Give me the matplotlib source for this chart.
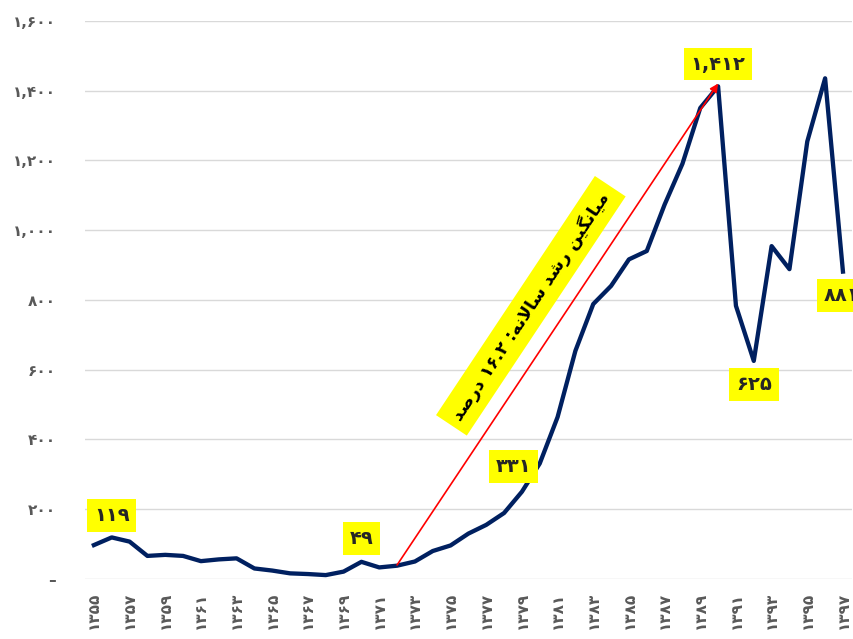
import matplotlib
matplotlib.use("Agg")
import matplotlib.pyplot as plt

# data
years = list(range(1355, 1398))
values = [97, 119, 107, 66, 69, 66, 51, 56, 59, 30,
          24, 16, 14, 11, 21, 49, 33, 38, 50, 80,
          96, 130, 155, 189, 250, 331, 464, 654, 788, 840,
          916, 940, 1073, 1190, 1350, 1412, 783, 625, 954, 888,
          1254, 1435, 881]
label_years = [1356, 1370, 1380, 1390, 1392, 1397]
label_offsets = [(0, 16), (0, 17), (-19, -2), (0, 16), (0, -17), (-1, -17)]
yticks = [0, 200, 400, 600, 800, 1000, 1200, 1400, 1600]
xticks = list(range(1355, 1398, 2))
growth_text = ["میانگین", "رشد", "سالانه:", "۱۶.۲", "درصد"]

FA_DIGITS = str.maketrans("0123456789", "۰۱۲۳۴۵۶۷۸۹")


def fa(n):
    return f"{n:,}".translate(FA_DIGITS)


# matplotlib has no arabic shaping, do it by hand with presentation forms
FORMS = {
    'ا': ('\uFE8D', '\uFE8E', None, None),
    'د': ('\uFEA9', '\uFEAA', None, None),
    'ر': ('\uFEAD', '\uFEAE', None, None),
    'س': ('\uFEB1', '\uFEB2', '\uFEB3', '\uFEB4'),
    'ش': ('\uFEB5', '\uFEB6', '\uFEB7', '\uFEB8'),
    'ص': ('\uFEB9', '\uFEBA', '\uFEBB', '\uFEBC'),
    'ل': ('\uFEDD', '\uFEDE', '\uFEDF', '\uFEE0'),
    'م': ('\uFEE1', '\uFEE2', '\uFEE3', '\uFEE4'),
    'ن': ('\uFEE5', '\uFEE6', '\uFEE7', '\uFEE8'),
    'ه': ('\uFEE9', '\uFEEA', '\uFEEB', '\uFEEC'),
    'ی': ('\uFBFC', '\uFBFD', '\uFBFE', '\uFBFF'),
    'گ': ('\uFB92', '\uFB93', '\uFB94', '\uFB95'),
    'ﻻ': ('\uFEFB', '\uFEFC', None, None),
}


def shape(word):
    chars = list(word.replace('لا', 'ﻻ'))
    out = []
    for i, c in enumerate(chars):
        if c not in FORMS:
            out.append(c)
            continue
        prev = chars[i - 1] if i > 0 else None
        nxt = chars[i + 1] if i < len(chars) - 1 else None
        jp = prev in FORMS and FORMS[prev][2] is not None
        jn = nxt in FORMS and FORMS[c][2] is not None
        iso, fin, ini, med = FORMS[c]
        out.append(med if jp and jn else fin if jp else ini if jn else iso)
    return ''.join(out[::-1])


def rtl(words):
    vis = []
    for w in words:
        if w[0] in "۰۱۲۳۴۵۶۷۸۹":
            vis.append(w)
        elif w.endswith(':'):
            vis.append(':' + shape(w[:-1]))
        else:
            vis.append(shape(w))
    return ' '.join(vis[::-1])


fig = plt.figure(figsize=(8.54, 6.39), dpi=100)
ax = fig.add_axes([0.0995, 0.094, 0.898, 0.8735])

ax.plot(years, values, color='#002060', lw=3.1, solid_joinstyle='round', zorder=3)

ax.set_xlim(1354.5, 1397.5)
ax.set_ylim(0, 1600)
ax.set_yticks(yticks)
ax.set_yticklabels(['–'] + [fa(v) for v in yticks[1:]])
ax.set_xticks(xticks)
ax.set_xticklabels([fa(y).replace(',', '') for y in xticks], rotation=90)
ax.tick_params(axis='y', length=0, pad=21, labelsize=11, labelcolor='#595959')
ax.tick_params(axis='x', length=0, pad=9, labelsize=11, labelcolor='#595959')
for t in ax.get_xticklabels() + ax.get_yticklabels():
    t.set_fontweight('bold')
ax.grid(axis='y', color='#d9d9d9', lw=1)
ax.set_axisbelow(True)
for s in ax.spines.values():
    s.set_visible(False)

# red growth arrow
ax.annotate('', xy=(1390, 1420), xytext=(1372, 40),
            arrowprops=dict(arrowstyle='-|>', color='red', lw=1.2,
                            mutation_scale=12, shrinkA=0, shrinkB=0), zorder=4)

ax.text(1379.5, 783, rtl(growth_text), rotation=56.4, rotation_mode='anchor',
        ha='center', va='center', fontsize=12.5, fontweight='bold', color='black',
        bbox=dict(boxstyle='square,pad=0.5', fc='#ffff00', ec='none'), zorder=5)

for yr, off in zip(label_years, label_offsets):
    v = values[years.index(yr)]
    ax.annotate(fa(v), xy=(yr, v), xytext=off, textcoords='offset points',
                ha='center', va='center',
                fontsize=14, fontweight='bold', color='#262626',
                bbox=dict(boxstyle='square,pad=0.35', fc='#ffff00', ec='none'),
                zorder=6, annotation_clip=False)

fig.savefig('out.png', dpi=100)
